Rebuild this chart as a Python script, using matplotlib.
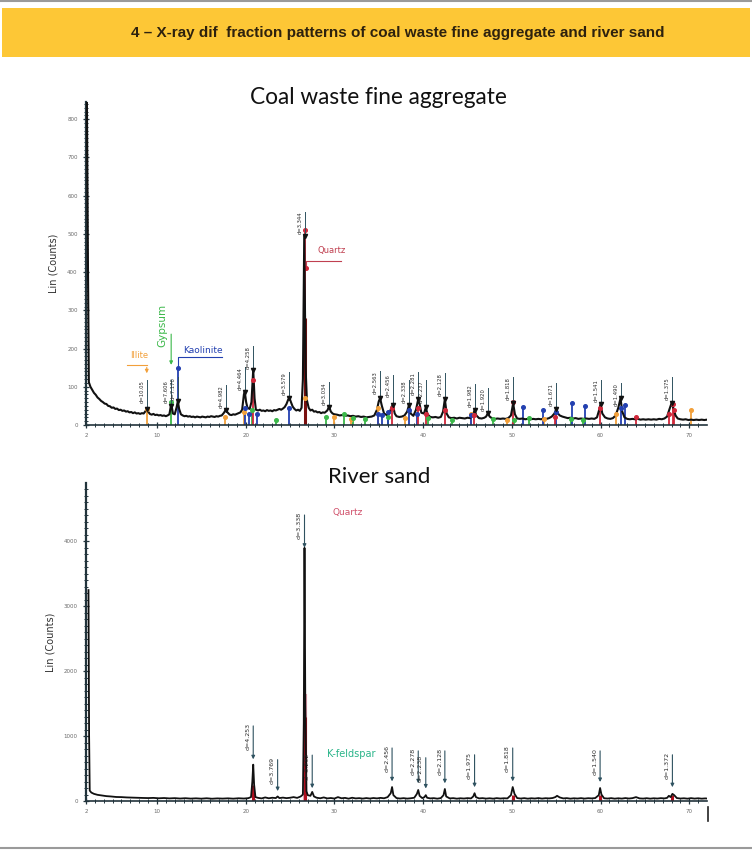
import matplotlib
matplotlib.use("Agg")
import matplotlib.pyplot as plt
from matplotlib.patches import Rectangle
from matplotlib.lines import Line2D

# ---- coal waste fine aggregate: measured trace (2theta, counts)
cw_x = [2.10, 2.22, 2.32, 2.50, 2.70, 2.90, 3.10, 3.30, 3.50, 3.70, 3.90, 4.10, 4.30, 4.50, 4.70,
        4.90, 5.10, 5.30, 5.50, 5.70, 5.90, 6.10, 6.30, 6.50, 6.70, 6.90, 7.10, 7.30, 7.50, 7.70,
        7.90, 8.10, 8.30, 8.50, 8.70, 8.85, 9.00, 9.20, 9.40, 9.60, 9.80, 10.0, 10.2, 10.4, 10.6,
        10.8, 11.0, 11.2, 11.4, 11.55, 11.65, 11.8, 12.0, 12.2, 12.35, 12.5, 12.7, 12.9, 13.1, 13.3,
        13.5, 13.7, 13.9, 14.1, 14.3, 14.5, 14.7, 14.9, 15.1, 15.3, 15.5, 15.7, 15.9, 16.1, 16.3,
        16.5, 16.7, 16.9, 17.1, 17.3, 17.55, 17.75, 17.95, 18.2, 18.4, 18.6, 18.8, 19.0, 19.2, 19.4,
        19.6, 19.8, 19.9, 20.05, 20.2, 20.45, 20.65, 20.85, 21.0, 21.15, 21.4, 21.6, 21.8, 22.0, 22.2,
        22.4, 22.6, 22.8, 23.0, 23.2, 23.4, 23.6, 23.8, 24.0, 24.2, 24.4, 24.6, 24.8, 24.95, 25.1,
        25.3, 25.5, 25.7, 25.9, 26.1, 26.3, 26.45, 26.6, 26.75, 26.9, 27.1, 27.3, 27.5, 27.7, 27.9,
        28.1, 28.3, 28.5, 28.7, 28.9, 29.2, 29.4, 29.6, 29.8, 30.0, 30.3, 30.6, 30.9, 31.2, 31.5,
        31.8, 32.1, 32.4, 32.7, 33.0, 33.3, 33.6, 33.9, 34.2, 34.5, 34.8, 35.0, 35.15, 35.35, 35.6,
        35.9, 36.2, 36.45, 36.6, 36.8, 37.0, 37.3, 37.6, 37.9, 38.2, 38.4, 38.6, 38.9, 39.2, 39.45,
        39.6, 39.8, 40.1, 40.3, 40.5, 40.8, 41.1, 41.4, 41.7, 42.0, 42.25, 42.45, 42.65, 42.9, 43.2,
        43.5, 43.8, 44.1, 44.4, 44.7, 45.0, 45.3, 45.6, 45.8, 46.0, 46.3, 46.6, 46.9, 47.1, 47.3,
        47.5, 47.8, 48.1, 48.4, 48.7, 49.0, 49.3, 49.6, 49.9, 50.15, 50.35, 50.6, 50.9, 51.2, 51.5,
        51.8, 52.1, 52.4, 52.7, 53.0, 53.3, 53.6, 53.9, 54.2, 54.5, 54.8, 55.0, 55.2, 55.4, 55.7,
        56.0, 56.3, 56.6, 56.9, 57.2, 57.5, 57.8, 58.1, 58.4, 58.7, 59.0, 59.3, 59.6, 59.85, 60.0,
        60.2, 60.5, 60.8, 61.1, 61.4, 61.7, 62.0, 62.25, 62.45, 62.7, 63.0, 63.3, 63.6, 63.9, 64.2,
        64.5, 64.8, 65.1, 65.4, 65.7, 66.0, 66.3, 66.6, 66.9, 67.2, 67.5, 67.75, 68.0, 68.2, 68.45,
        68.7, 69.0, 69.3, 69.6, 69.9, 70.2, 70.5, 70.8, 71.1, 71.4, 71.7, 72.0]
cw_y = [860, 420, 112, 100, 92, 84, 79, 72, 68, 63, 60, 56, 55, 50, 49,
        45, 46, 42, 43, 39, 40, 37, 38, 35, 36, 33, 34, 31, 33, 30,
        31, 29, 31, 30, 36, 42, 35, 29, 27, 29, 26, 27, 25, 26, 24,
        25, 23, 25, 28, 48, 50, 30, 28, 45, 62, 42, 28, 25, 23, 24,
        22, 23, 21, 22, 20, 22, 21, 20, 22, 21, 20, 22, 21, 23, 22,
        21, 23, 22, 24, 25, 32, 40, 33, 27, 26, 28, 27, 29, 31, 33,
        40, 80, 87, 60, 45, 42, 60, 145, 70, 40, 38, 40, 37, 38, 36,
        39, 37, 38, 36, 39, 38, 40, 42, 40, 43, 47, 55, 67, 70, 60,
        48, 42, 38, 40, 37, 45, 120, 495, 150, 65, 45, 38, 40, 35, 36,
        33, 34, 31, 33, 32, 38, 48, 35, 30, 28, 27, 25, 26, 24, 25,
        23, 24, 22, 23, 21, 22, 20, 21, 22, 25, 40, 62, 70, 50, 30,
        26, 30, 48, 52, 30, 23, 21, 22, 25, 35, 52, 30, 24, 40, 68,
        55, 32, 30, 46, 28, 21, 20, 21, 19, 21, 35, 68, 30, 20, 18,
        19, 17, 19, 18, 17, 19, 18, 25, 39, 25, 18, 17, 19, 22, 31,
        22, 17, 16, 17, 16, 17, 16, 18, 25, 57, 28, 17, 16, 17, 15,
        16, 15, 16, 15, 16, 15, 17, 16, 18, 22, 30, 41, 30, 25, 22,
        20, 18, 19, 17, 18, 16, 17, 16, 17, 16, 17, 16, 20, 40, 55,
        30, 20, 17, 16, 18, 25, 45, 70, 35, 20, 16, 15, 16, 15, 16,
        14, 15, 14, 15, 14, 15, 14, 16, 15, 17, 22, 40, 57, 45, 25,
        17, 15, 14, 15, 13, 14, 13, 14, 13, 14, 13, 14]

# reference sticks of the identified phases
quartz_x = [20.85, 26.63, 36.54, 39.46, 40.29, 42.45, 45.79, 50.14, 54.87, 59.96, 64.03, 67.74, 68.14, 68.31]
quartz_h = [117, 510, 45, 45, 28, 40, 25, 60, 22, 45, 20, 30, 55, 40]
kaol_x = [12.35, 19.9, 20.4, 21.3, 24.9, 34.9, 35.4, 36.0, 38.4, 39.3, 45.4, 51.3, 53.5, 55.0, 56.8, 58.2, 62.3, 62.8]
kaol_h = [150, 45, 30, 28, 45, 30, 25, 35, 40, 30, 25, 47, 39, 34, 57, 49, 45, 52]
gyps_x = [11.6, 20.7, 23.4, 29.1, 31.1, 32.1, 33.4, 36.0, 40.6, 43.3, 47.9, 50.3, 51.9, 56.7, 58.0]
gyps_h = [60, 40, 12, 22, 28, 18, 15, 20, 18, 14, 16, 14, 18, 15, 14]
illi_x = [8.85, 17.7, 19.8, 26.7, 29.9, 31.9, 34.9, 38.0, 45.4, 49.5, 53.6, 61.7, 70.2]
illi_h = [42, 22, 35, 70, 22, 15, 45, 18, 30, 14, 15, 30, 40]

# peak labels (position, peak top, label top, text)
cw_pk_x = [8.85, 11.6, 12.35, 17.8, 19.9, 20.85, 24.9, 26.63, 29.4, 35.15, 36.6, 38.4, 39.45,
           40.3, 42.45, 45.8, 47.3, 50.15, 55.0, 60.0, 62.25, 68.0]
cw_pk_y = [42, 50, 62, 40, 87, 145, 70, 495, 48, 70, 52, 52, 68, 46, 68, 39, 31, 57, 41, 55, 70, 57]
cw_lb_y = [117, 117, 125, 104, 151, 207, 138, 558, 112, 140, 132, 117, 138, 117, 135, 106, 96,
           125, 109, 119, 109, 125]
cw_lb = ["d=10.05", "d=7.606", "d=7.170", "d=4.982", "d=4.464", "d=4.258", "d=3.579", "d=3.344",
         "d=3.034", "d=2.563", "d=2.456", "d=2.338", "d=2.281", "d=2.237", "d=2.128", "d=1.982",
         "d=1.920", "d=1.818", "d=1.671", "d=1.541", "d=1.490", "d=1.375"]

# ---- river sand trace
rs_x = [2.28, 2.35, 2.42, 2.6, 2.9, 3.3, 3.8, 4.3, 4.8, 5.4, 6.0, 6.6, 7.2, 7.8, 8.4, 9.0, 9.6,
        10.2, 10.8, 11.4, 12.0, 12.6, 13.2, 13.8, 14.4, 15.0, 15.6, 16.2, 16.8, 17.4, 18.0, 18.6,
        19.2, 19.8, 20.3, 20.6, 20.75, 20.85, 20.95, 21.1, 21.4, 21.8, 22.2, 22.6, 23.0, 23.4, 23.6,
        23.8, 24.2, 24.6, 25.0, 25.4, 25.8, 26.2, 26.45, 26.55, 26.63, 26.72, 26.85, 27.0, 27.3,
        27.5, 27.7, 28.0, 28.4, 28.8, 29.2, 29.6, 30.0, 30.4, 30.8, 31.2, 31.6, 32.0, 32.4, 32.8,
        33.2, 33.6, 34.0, 34.4, 34.8, 35.2, 35.6, 36.0, 36.35, 36.5, 36.65, 37.0, 37.4, 37.8, 38.2,
        38.6, 39.0, 39.3, 39.45, 39.6, 39.9, 40.15, 40.3, 40.45, 40.8, 41.2, 41.6, 42.0, 42.3,
        42.45, 42.6, 43.0, 43.4, 43.8, 44.2, 44.6, 45.0, 45.4, 45.65, 45.8, 45.95, 46.3, 46.7, 47.1,
        47.5, 47.9, 48.3, 48.7, 49.1, 49.5, 49.9, 50.1, 50.3, 50.6, 51.0, 51.4, 51.8, 52.2, 52.6,
        53.0, 53.4, 53.8, 54.2, 54.6, 54.9, 55.1, 55.4, 55.8, 56.2, 56.6, 57.0, 57.4, 57.8, 58.2,
        58.6, 59.0, 59.4, 59.8, 59.95, 60.1, 60.4, 60.8, 61.2, 61.6, 62.0, 62.4, 62.8, 63.2, 63.6,
        64.0, 64.4, 64.8, 65.2, 65.6, 66.0, 66.4, 66.8, 67.2, 67.5, 67.7, 67.9, 68.1, 68.3, 68.6,
        69.0, 69.4, 69.8, 70.2, 70.6, 71.0, 71.4, 71.8, 72.0]
rs_y = [3250, 1000, 160, 130, 110, 95, 85, 75, 70, 62, 60, 55, 52, 50, 47, 45, 48,
        42, 46, 40, 44, 38, 43, 37, 41, 36, 42, 35, 40, 37, 41, 36,
        42, 38, 44, 60, 300, 560, 250, 60, 48, 40, 55, 42, 50, 45, 70,
        45, 52, 44, 50, 60, 48, 70, 100, 1200, 3900, 1500, 150, 90, 80,
        140, 70, 50, 42, 55, 40, 46, 38, 60, 42, 48, 36, 50, 40, 44,
        37, 45, 38, 46, 40, 48, 42, 60, 120, 215, 90, 45, 38, 44, 37,
        42, 50, 110, 170, 80, 45, 60, 90, 50, 40, 44, 36, 45, 90,
        185, 70, 40, 44, 36, 42, 38, 44, 40, 70, 120, 60, 40, 44, 37,
        42, 36, 44, 38, 42, 40, 90, 215, 110, 45, 38, 44, 36, 42, 38,
        45, 37, 43, 40, 46, 60, 80, 55, 40, 44, 36, 42, 38, 44, 37,
        43, 40, 45, 90, 200, 100, 42, 38, 44, 36, 42, 37, 45, 38, 44,
        60, 40, 37, 43, 36, 42, 38, 44, 40, 48, 80, 60, 110, 90, 45,
        38, 42, 36, 44, 37, 42, 36, 40, 38]

rs_pk_x = [20.85, 23.6, 26.63, 27.5, 36.5, 39.45, 40.3, 42.45, 45.8, 50.1, 59.95, 68.1]
rs_tip_y = [600, 110, 3860, 155, 260, 230, 150, 230, 170, 260, 250, 170]
rs_lb_y = [1200, 680, 4450, 750, 860, 815, 710, 815, 755, 860, 815, 755]
rs_lb = ["d=4.253", "d=3.769", "d=3.338", "d=3.232", "d=2.456", "d=2.278", "d=2.238", "d=2.128",
         "d=1.975", "d=1.818", "d=1.540", "d=1.372"]
rs_qz_x = [20.85, 26.63, 50.1, 59.95, 68.1]
rs_qz_h = [250, 1300, 90, 90, 100]

W, H = 752, 863
fig = plt.figure(figsize=(W / 100, H / 100), dpi=100)

def fx(px):
    return px / W

def fy(py):
    return 1 - py / H

# header band
fig.add_artist(Line2D([0, 1], [fy(1.5), fy(1.5)], color="#9a9a9a", lw=1.5))
fig.add_artist(Rectangle((fx(2), fy(57)), fx(748), 49 / H, color="#fdc736", lw=0))
fig.text(fx(398), fy(33), "4 \u2013 X-ray dif  fraction patterns of coal waste fine aggregate and river sand",
         ha="center", va="center", fontsize=11, fontweight="bold", color="#2e220e",
         family="Liberation Sans")
fig.add_artist(Line2D([0, 1], [fy(848), fy(848)], color="#9a9a9a", lw=1.5))

line_col = "#2f5260"
tick_col = "#6a6a6a"

def style(ax, ymax, ymajor, yminor):
    ax.set_xlim(2, 72)
    ax.set_ylim(0, ymax)
    for s in ["top", "right"]:
        ax.spines[s].set_visible(False)
    ax.spines["left"].set_color("#22343c")
    ax.spines["left"].set_linewidth(1.6)
    ax.spines["bottom"].set_color("#22343c")
    ax.spines["bottom"].set_linewidth(1.2)
    ax.set_xticks([2, 10, 20, 30, 40, 50, 60, 70])
    ax.set_xticks(range(3, 72), minor=True)
    ax.set_yticks(range(0, ymax, ymajor))
    ax.set_yticks(range(0, ymax, yminor), minor=True)
    ax.tick_params(axis="both", which="both", direction="inout", colors="#22343c",
                   labelcolor=tick_col, labelsize=4)
    ax.tick_params(which="major", length=5, width=0.9)
    ax.tick_params(which="minor", length=3, width=0.7)
    ax.set_ylabel("Lin (Counts)", fontsize=7, color="#333333", labelpad=6)

# ---- top chart
ax1 = fig.add_axes([fx(86), fy(425), fx(707 - 86), (425 - 102) / H])
style(ax1, 845, 100, 10)
for xs, hs, c in [(illi_x, illi_h, "#f2a03a"), (gyps_x, gyps_h, "#3cb84a"),
                  (kaol_x, kaol_h, "#2340b0"), (quartz_x, quartz_h, "#d0283a")]:
    ax1.vlines(xs, 0, hs, colors=c, lw=1.3, zorder=2)
    ax1.plot(xs, hs, "o", color=c, ms=2.6, zorder=4)
ax1.vlines([26.63], 0, [280], colors="#7a1010", lw=2.2, zorder=2)
ax1.plot(cw_x, cw_y, color="#111111", lw=1.5, zorder=3)
for x, py, ly, t in zip(cw_pk_x, cw_pk_y, cw_lb_y, cw_lb):
    ax1.plot([x, x], [py, ly], color=line_col, lw=0.7, zorder=5)
    ax1.plot(x, py, "v", color="#111111", ms=3, zorder=6)
    ax1.text(x - 0.25, ly, t, rotation=90, ha="right", va="top", fontsize=3.8,
             color="#2a2a2a", zorder=6)

# phase callouts
ax1.plot([6.6, 8.85], [158, 158], color="#f2a03a", lw=0.8)
ax1.annotate("", xy=(8.85, 128), xytext=(8.85, 158),
             arrowprops=dict(arrowstyle="-|>", color="#f2a03a", lw=0.8, mutation_scale=5))
ax1.text(7.0, 170, "Illite", color="#f2a03a", fontsize=6, ha="left", va="bottom")
ax1.annotate("", xy=(11.6, 150), xytext=(11.6, 245),
             arrowprops=dict(arrowstyle="-|>", color="#3cb84a", lw=0.8, mutation_scale=5))
ax1.text(10.6, 203, "Gypsum", color="#3cb84a", fontsize=7.5, rotation=90, ha="center", va="bottom")
ax1.plot([12.35, 12.35, 17.3], [150, 177, 177], color="#2340b0", lw=0.8)
ax1.text(12.9, 184, "Kaolinite", color="#2340b0", fontsize=6.5, ha="left", va="bottom")
ax1.plot([26.8, 26.8, 30.8], [410, 428, 428], color="#c04050", lw=0.8)
ax1.plot(26.8, 410, "o", color="#d0283a", ms=2.6)
ax1.text(28.1, 445, "Quartz", color="#c04050", fontsize=6, ha="left", va="bottom")

fig.text(fx(378), fy(97), "Coal waste fine aggregate", ha="center", va="center",
         fontsize=16.3, color="#111111", family="Lato")

# ---- bottom chart
ax2 = fig.add_axes([fx(86), fy(801), fx(707 - 86), (801 - 483) / H])
style(ax2, 4900, 1000, 100)
ax2.vlines(rs_qz_x, 0, rs_qz_h, colors="#b01020", lw=2.2, zorder=2)
ax2.vlines([26.63], 0, [1650], colors="#e8a0b0", lw=3, zorder=1)
ax2.plot(rs_x, rs_y, color="#111111", lw=1.3, zorder=3)
for x, ty, ly, t in zip(rs_pk_x, rs_tip_y, rs_lb_y, rs_lb):
    ax2.annotate("", xy=(x, ty), xytext=(x, ly),
                 arrowprops=dict(arrowstyle="-|>", color=line_col, lw=0.8, mutation_scale=5),
                 zorder=5)
    ax2.text(x - 0.3, ly, t, rotation=90, ha="right", va="top", fontsize=4.5,
             color="#2a2a2a", zorder=6)
ax2.text(29.8, 4450, "Quartz", color="#d0506a", fontsize=6.5, ha="left", va="center")
ax2.text(29.2, 730, "K-feldspar", color="#2bb58a", fontsize=7, ha="left", va="center")

fig.text(fx(379), fy(477), "River sand", ha="center", va="center",
         fontsize=16, color="#111111", family="Lato")
fig.add_artist(Line2D([fx(708), fx(708)], [fy(807), fy(821)], color="#222222", lw=1.2))

fig.savefig("out.png", dpi=100)
